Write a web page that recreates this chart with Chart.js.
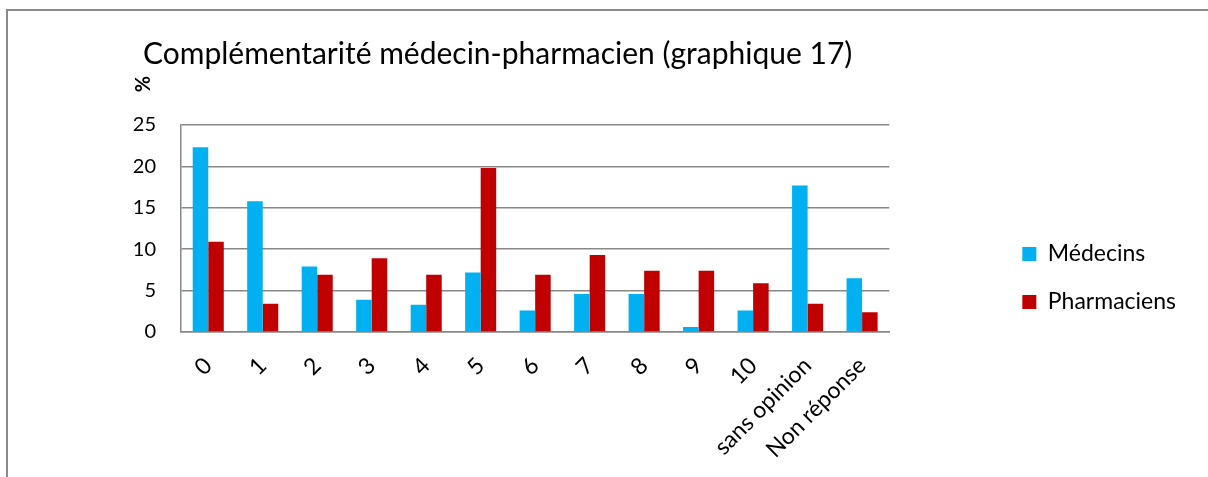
<!DOCTYPE html>
<html>
<head>
<meta charset="utf-8">
<script src="https://cdn.jsdelivr.net/npm/chart.js@4"></script>
<style>
  html, body { margin:0; padding:0; background:#fff; }
  #wrap { position:relative; width:1208px; height:477px; overflow:hidden; }
  #frame { position:absolute; left:6px; top:9px; right:-20px; bottom:-20px;
           border-top:2px solid #8a8a8a; border-left:2px solid #8a8a8a; }
  canvas { position:absolute; left:0; top:0; }
</style>
</head>
<body>
<div id="wrap">
  <div id="frame"></div>
  <canvas id="chart" width="1208" height="477"></canvas>
</div>
<script>
  const categories  = ['0','1','2','3','4','5','6','7','8','9','10','sans opinion','Non réponse'];
  const medecins    = [22.3, 15.8, 7.9, 3.9, 3.3, 7.2, 2.6, 4.6, 4.6, 0.6, 2.6, 17.7, 6.5];
  const pharmaciens = [10.9, 3.4, 6.9, 8.9, 6.9, 19.8, 6.9, 9.3, 7.4, 7.4, 5.9, 3.4, 2.4];
  const seriesNames = ['Médecins', 'Pharmaciens'];
  const yTicks      = [0, 5, 10, 15, 20, 25];
  const titleText   = 'Complémentarité médecin-pharmacien (graphique 17)';
  const yUnit       = '%';

  const FONT = 'Lato';
  const GRID = '#888888';

  // titre + unité "%" dessinés au-dessus de la zone de tracé
  const annotations = {
    id: 'annotations',
    afterDraw(chart){
      const {ctx, chartArea} = chart;
      ctx.save();
      ctx.fillStyle = '#000';
      ctx.textBaseline = 'middle';
      ctx.font = `30px ${FONT}`;
      ctx.fillText(titleText, chartArea.left - 38, chartArea.top - 71);
      ctx.translate(chartArea.left - 37, chartArea.top - 41);
      ctx.rotate(-Math.PI/2);
      ctx.textAlign = 'center';
      ctx.font = `bold 20px ${FONT}`;
      ctx.fillText(yUnit, 0, 0);
      ctx.restore();
    }
  };

  // axes vides servant seulement à réserver de la place
  const spacer = (position, size) => ({
    type: 'linear', position, display: true,
    grid: { display: false, drawTicks: false },
    border: { display: false },
    ticks: { display: false },
    afterFit: (s)=>{ if (s.isHorizontal()) s.height = size; else s.width = size; }
  });

  new Chart(document.getElementById('chart'), {
    type: 'bar',
    data: {
      labels: categories,
      datasets: [
        { label: seriesNames[0], data: medecins,    backgroundColor: '#00B0F0', borderWidth: 0 },
        { label: seriesNames[1], data: pharmaciens, backgroundColor: '#C00000', borderWidth: 0 }
      ]
    },
    options: {
      responsive: false,
      animation: false,
      categoryPercentage: 0.57,
      barPercentage: 1,
      layout: { padding: { top: 79, left: 0, right: 22, bottom: 0 } },
      scales: {
        x: {
          grid: { display: false, drawTicks: false },
          border: { display: true, color: GRID, width: 1.5 },
          ticks: { color: '#000', font: { family: FONT, size: 23 }, minRotation: 45, maxRotation: 45, padding: 20, autoSkip: false },
          afterFit: (s)=>{ s.height = 145; }
        },
        y: {
          min: 0, max: 25,
          afterBuildTicks: (s)=>{ s.ticks = yTicks.map(v=>({value:v})); },
          grid: { color: GRID, lineWidth: 1.5, drawTicks: false },
          border: { display: true, color: GRID, width: 1.5 },
          ticks: { color: '#000', font: { family: FONT, size: 20 }, padding: 25 },
          afterFit: (s)=>{ s.width = 181; }
        },
        spacerRight: spacer('right', 108),
        spacerTop: spacer('top', 46)
      },
      plugins: {
        legend: {
          position: 'right',
          labels: { color: '#000', font: { family: FONT, size: 23 }, boxWidth: 14, boxHeight: 14, padding: 25 }
        },
        title: { display: false },
        tooltip: { enabled: false }
      }
    },
    plugins: [annotations]
  });
</script>
</body>
</html>
